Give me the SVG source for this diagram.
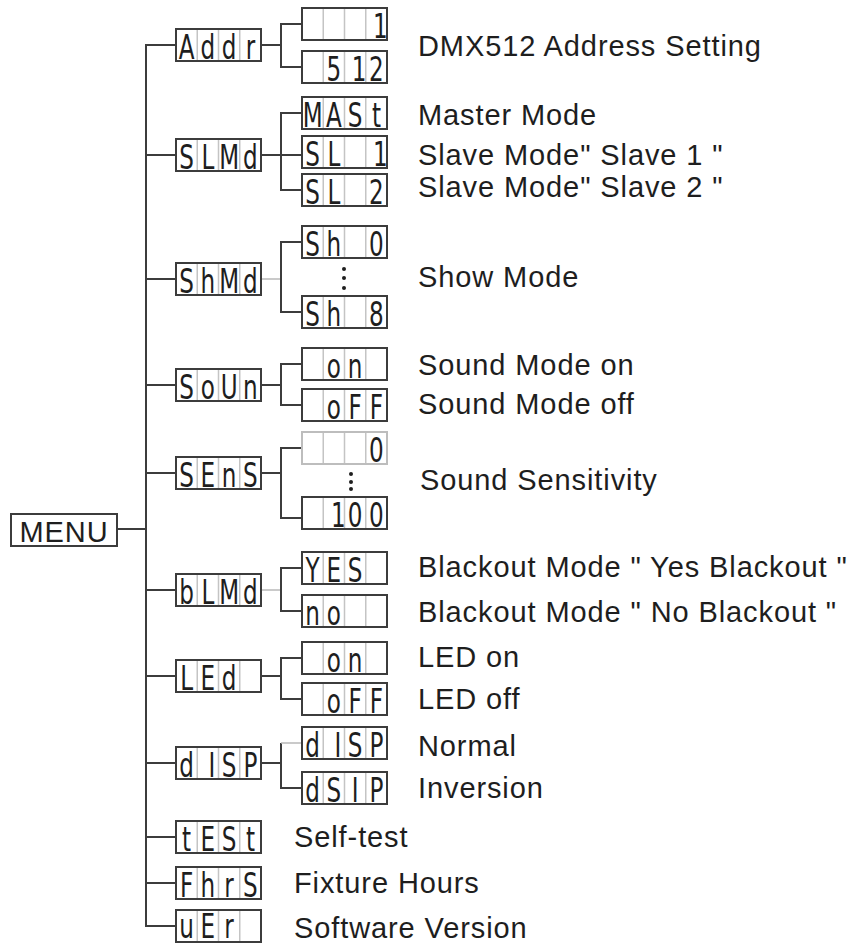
<svg xmlns="http://www.w3.org/2000/svg" width="853" height="947" viewBox="0 0 853 947">
<style>
.box{fill:#fff;stroke:#3c3c3c;stroke-width:2}
.boxl{fill:#fff;stroke:#bdbdbd;stroke-width:2}
.cell{stroke:#c4c4c4;stroke-width:1.5}
.seg{font-family:"DejaVu Sans",sans-serif;font-size:33px;fill:#1e1e1e;text-anchor:middle}
.lbl{font-family:"Liberation Sans",Arial,sans-serif;font-size:29px;letter-spacing:0.9px;fill:#1e1e1e}
.ln{stroke:#3c3c3c;stroke-width:2;fill:none}
.lt{stroke:#b8b8b8;stroke-width:1.5;fill:none}
.dot{fill:#1e1e1e}
</style>
<defs>
<g id="grid">
<rect class="box" x="0" y="0" width="85" height="32"/>
<path class="cell" d="M21.25 1V31M42.5 1V31M63.75 1V31"/>
</g>
<g id="gridl">
<rect class="boxl" x="0" y="0" width="85" height="32"/>
<path class="cell" d="M21.25 1V31M42.5 1V31M63.75 1V31"/>
</g>
</defs>

<g id="connectors">
<path class="ln" d="M117 529H146M146 44V926H176"/>
<path class="ln" d="M146 45H176M146 155H176M146 279H176M146 385H176M146 473H176M146 590H176M146 676H176M146 763H176M146 837H176M146 883H176"/>
<path class="ln" d="M261 45H281M302 24H281V67H302"/>
<path class="ln" d="M261 155H302M302 113H281V190H302"/>
<path class="lt" d="M261 279H281"/>
<path class="ln" d="M302 242H281V312H302"/>
<path class="ln" d="M261 385H281M302 364H281V405H302"/>
<path class="ln" d="M261 473H281M302 448H281V518H302"/>
<path class="lt" d="M261 590H281"/>
<path class="ln" d="M302 568H281V611H302"/>
<path class="ln" d="M261 676H281M302 658H281V699H302"/>
<path class="ln" d="M261 763H281M281 743V788H302"/>
<path class="lt" d="M281 743H302"/>
</g>

<g id="menu">
<rect class="box" x="11" y="514" width="106" height="32"/>
<text class="lbl" x="64" y="542" text-anchor="middle" letter-spacing="0.5">MENU</text>
</g>

<g id="n-addr"><use href="#grid" x="176" y="29"/>
<text class="seg" transform="translate(186.6,59) scale(0.7,1)">A</text>
<text class="seg" transform="translate(207.9,59) scale(0.7,1)">d</text>
<text class="seg" transform="translate(229.1,59) scale(0.7,1)">d</text>
<text class="seg" transform="translate(250.4,59) scale(0.7,1)">r</text></g>

<g id="n-addr-1"><use href="#grid" x="302" y="8"/>
<text class="seg" transform="translate(380.4,38) scale(0.7,1)">1</text></g>
<g id="n-addr-512"><use href="#grid" x="302" y="51"/>
<text class="seg" transform="translate(333.9,81) scale(0.7,1)">5</text>
<text class="seg" transform="translate(359.1,81) scale(0.7,1)">1</text>
<text class="seg" transform="translate(376.4,81) scale(0.7,1)">2</text></g>

<g id="n-slmd"><use href="#grid" x="176" y="139"/>
<text class="seg" transform="translate(186.6,169) scale(0.7,1)">S</text>
<text class="seg" transform="translate(207.9,169) scale(0.7,1)">L</text>
<text class="seg" transform="translate(229.1,169) scale(0.7,1)">M</text>
<text class="seg" transform="translate(250.4,169) scale(0.7,1)">d</text></g>
<g id="n-mast"><use href="#grid" x="302" y="97"/>
<text class="seg" transform="translate(312.6,127) scale(0.7,1)">M</text>
<text class="seg" transform="translate(333.9,127) scale(0.7,1)">A</text>
<text class="seg" transform="translate(355.1,127) scale(0.7,1)">S</text>
<text class="seg" transform="translate(376.4,127) scale(0.7,1)">t</text></g>
<g id="n-sl1"><use href="#grid" x="302" y="136"/>
<text class="seg" transform="translate(312.6,166) scale(0.7,1)">S</text>
<text class="seg" transform="translate(333.9,166) scale(0.7,1)">L</text>
<text class="seg" transform="translate(380.4,166) scale(0.7,1)">1</text></g>
<g id="n-sl2"><use href="#grid" x="302" y="174"/>
<text class="seg" transform="translate(312.6,204) scale(0.7,1)">S</text>
<text class="seg" transform="translate(333.9,204) scale(0.7,1)">L</text>
<text class="seg" transform="translate(376.4,204) scale(0.7,1)">2</text></g>

<g id="n-shmd"><use href="#grid" x="176" y="263"/>
<text class="seg" transform="translate(186.6,293) scale(0.7,1)">S</text>
<text class="seg" transform="translate(207.9,293) scale(0.7,1)">h</text>
<text class="seg" transform="translate(229.1,293) scale(0.7,1)">M</text>
<text class="seg" transform="translate(250.4,293) scale(0.7,1)">d</text></g>
<g id="n-sh0"><use href="#grid" x="302" y="226"/>
<text class="seg" transform="translate(312.6,256) scale(0.7,1)">S</text>
<text class="seg" transform="translate(333.9,256) scale(0.7,1)">h</text>
<text class="seg" transform="translate(376.4,256) scale(0.7,1)">0</text></g>
<g id="n-sh8"><use href="#grid" x="302" y="296"/>
<text class="seg" transform="translate(312.6,326) scale(0.7,1)">S</text>
<text class="seg" transform="translate(333.9,326) scale(0.7,1)">h</text>
<text class="seg" transform="translate(376.4,326) scale(0.7,1)">8</text></g>
<g id="dots1"><circle class="dot" cx="344" cy="269" r="2"/><circle class="dot" cx="344" cy="278" r="2"/><circle class="dot" cx="344" cy="288" r="2"/></g>

<g id="n-soun"><use href="#grid" x="176" y="369"/>
<text class="seg" transform="translate(186.6,399) scale(0.7,1)">S</text>
<text class="seg" transform="translate(207.9,399) scale(0.7,1)">o</text>
<text class="seg" transform="translate(229.1,399) scale(0.7,1)">U</text>
<text class="seg" transform="translate(250.4,399) scale(0.7,1)">n</text></g>
<g id="n-son"><use href="#grid" x="302" y="348"/>
<text class="seg" transform="translate(333.9,378) scale(0.7,1)">o</text>
<text class="seg" transform="translate(355.1,378) scale(0.7,1)">n</text></g>
<g id="n-soff"><use href="#grid" x="302" y="389"/>
<text class="seg" transform="translate(333.9,419) scale(0.7,1)">o</text>
<text class="seg" transform="translate(355.1,419) scale(0.7,1)">F</text>
<text class="seg" transform="translate(376.4,419) scale(0.7,1)">F</text></g>

<g id="n-sens"><use href="#grid" x="176" y="457"/>
<text class="seg" transform="translate(186.6,487) scale(0.7,1)">S</text>
<text class="seg" transform="translate(207.9,487) scale(0.7,1)">E</text>
<text class="seg" transform="translate(229.1,487) scale(0.7,1)">n</text>
<text class="seg" transform="translate(250.4,487) scale(0.7,1)">S</text></g>
<g id="n-s0"><use href="#gridl" x="302" y="432"/>
<text class="seg" transform="translate(376.4,462) scale(0.7,1)">0</text></g>
<g id="n-s100"><use href="#grid" x="302" y="497"/>
<text class="seg" transform="translate(338.4,527) scale(0.7,1)">1</text>
<text class="seg" transform="translate(355.1,527) scale(0.7,1)">0</text>
<text class="seg" transform="translate(376.4,527) scale(0.7,1)">0</text></g>
<g id="dots2"><circle class="dot" cx="351" cy="474" r="2"/><circle class="dot" cx="351" cy="482" r="2"/><circle class="dot" cx="351" cy="489" r="2"/></g>

<g id="n-blmd"><use href="#grid" x="176" y="574"/>
<text class="seg" transform="translate(186.6,604) scale(0.7,1)">b</text>
<text class="seg" transform="translate(207.9,604) scale(0.7,1)">L</text>
<text class="seg" transform="translate(229.1,604) scale(0.7,1)">M</text>
<text class="seg" transform="translate(250.4,604) scale(0.7,1)">d</text></g>
<g id="n-yes"><use href="#grid" x="302" y="552"/>
<text class="seg" transform="translate(312.6,582) scale(0.7,1)">Y</text>
<text class="seg" transform="translate(333.9,582) scale(0.7,1)">E</text>
<text class="seg" transform="translate(355.1,582) scale(0.7,1)">S</text></g>
<g id="n-no"><use href="#grid" x="302" y="595"/>
<text class="seg" transform="translate(312.6,625) scale(0.7,1)">n</text>
<text class="seg" transform="translate(333.9,625) scale(0.7,1)">o</text></g>

<g id="n-led"><use href="#grid" x="176" y="660"/>
<text class="seg" transform="translate(186.6,690) scale(0.7,1)">L</text>
<text class="seg" transform="translate(207.9,690) scale(0.7,1)">E</text>
<text class="seg" transform="translate(229.1,690) scale(0.7,1)">d</text></g>
<g id="n-lon"><use href="#grid" x="302" y="642"/>
<text class="seg" transform="translate(333.9,672) scale(0.7,1)">o</text>
<text class="seg" transform="translate(355.1,672) scale(0.7,1)">n</text></g>
<g id="n-loff"><use href="#grid" x="302" y="683"/>
<text class="seg" transform="translate(333.9,713) scale(0.7,1)">o</text>
<text class="seg" transform="translate(355.1,713) scale(0.7,1)">F</text>
<text class="seg" transform="translate(376.4,713) scale(0.7,1)">F</text></g>

<g id="n-disp"><use href="#grid" x="176" y="747"/>
<text class="seg" transform="translate(186.6,777) scale(0.7,1)">d</text>
<text class="seg" transform="translate(211.9,777) scale(0.7,1)">I</text>
<text class="seg" transform="translate(229.1,777) scale(0.7,1)">S</text>
<text class="seg" transform="translate(250.4,777) scale(0.7,1)">P</text></g>
<g id="n-disp-n"><use href="#grid" x="302" y="727"/>
<text class="seg" transform="translate(312.6,757) scale(0.7,1)">d</text>
<text class="seg" transform="translate(337.9,757) scale(0.7,1)">I</text>
<text class="seg" transform="translate(355.1,757) scale(0.7,1)">S</text>
<text class="seg" transform="translate(376.4,757) scale(0.7,1)">P</text></g>
<g id="n-dsip"><use href="#grid" x="302" y="772"/>
<text class="seg" transform="translate(312.6,802) scale(0.7,1)">d</text>
<text class="seg" transform="translate(333.9,802) scale(0.7,1)">S</text>
<text class="seg" transform="translate(355.1,802) scale(0.7,1)">I</text>
<text class="seg" transform="translate(376.4,802) scale(0.7,1)">P</text></g>

<g id="n-test"><use href="#grid" x="176" y="821"/>
<text class="seg" transform="translate(186.6,851) scale(0.7,1)">t</text>
<text class="seg" transform="translate(207.9,851) scale(0.7,1)">E</text>
<text class="seg" transform="translate(229.1,851) scale(0.7,1)">S</text>
<text class="seg" transform="translate(250.4,851) scale(0.7,1)">t</text></g>
<g id="n-fhrs"><use href="#grid" x="176" y="867"/>
<text class="seg" transform="translate(186.6,897) scale(0.7,1)">F</text>
<text class="seg" transform="translate(207.9,897) scale(0.7,1)">h</text>
<text class="seg" transform="translate(229.1,897) scale(0.7,1)">r</text>
<text class="seg" transform="translate(250.4,897) scale(0.7,1)">S</text></g>
<g id="n-ver"><use href="#grid" x="176" y="910"/>
<text class="seg" transform="translate(186.6,938) scale(0.7,1)">u</text>
<text class="seg" transform="translate(207.9,938) scale(0.7,1)">E</text>
<text class="seg" transform="translate(229.1,938) scale(0.7,1)">r</text></g>

<g id="labels">
<text class="lbl" x="418" y="56">DMX512 Address Setting</text>
<text class="lbl" x="418" y="125">Master Mode</text>
<text class="lbl" x="418" y="165">Slave Mode" Slave 1 "</text>
<text class="lbl" x="418" y="197">Slave Mode" Slave 2 "</text>
<text class="lbl" x="418" y="287">Show Mode</text>
<text class="lbl" x="418" y="375">Sound Mode on</text>
<text class="lbl" x="418" y="414">Sound Mode off</text>
<text class="lbl" x="420" y="490">Sound Sensitivity</text>
<text class="lbl" x="418" y="577">Blackout Mode " Yes Blackout "</text>
<text class="lbl" x="418" y="622">Blackout Mode " No Blackout "</text>
<text class="lbl" x="418" y="667">LED on</text>
<text class="lbl" x="418" y="709">LED off</text>
<text class="lbl" x="418" y="756">Normal</text>
<text class="lbl" x="418" y="798">Inversion</text>
<text class="lbl" x="294" y="847">Self-test</text>
<text class="lbl" x="294" y="893">Fixture Hours</text>
<text class="lbl" x="294" y="938">Software Version</text>
</g>
</svg>
